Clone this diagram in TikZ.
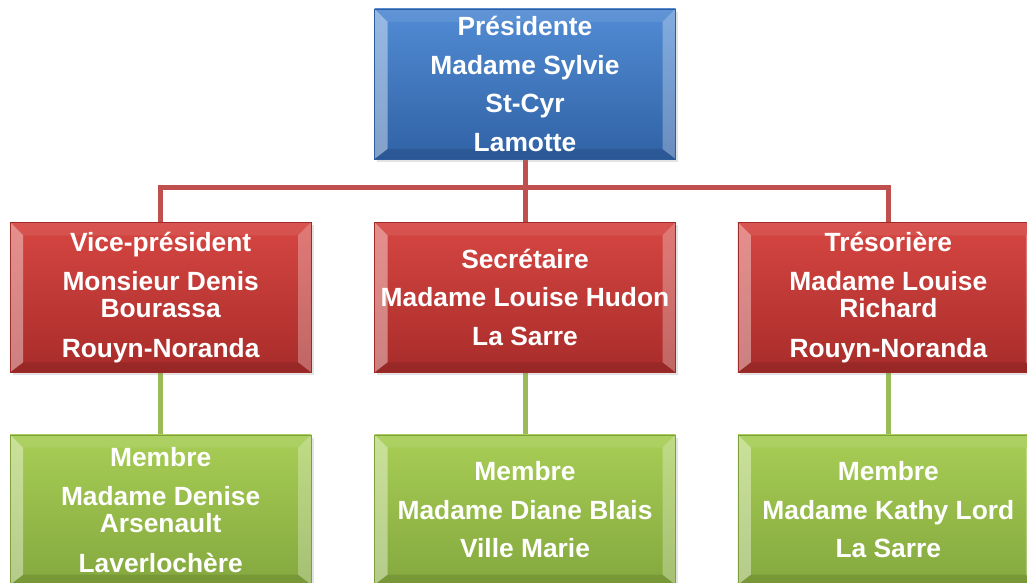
\documentclass[tikz,border=0pt]{standalone}
\usepackage{fontspec}
\setmainfont{Liberation Sans}
\usetikzlibrary{positioning}
\usetikzlibrary{shadows}
\usetikzlibrary{backgrounds}
\definecolor{chart-red}{HTML}{C0504D}
\definecolor{chart-green}{HTML}{9BBB59}
\definecolor{blue-top}{RGB}{82,140,212}
\definecolor{blue-bottom}{RGB}{48,98,165}
\definecolor{red-top}{RGB}{214,70,66}
\definecolor{red-bottom}{RGB}{168,44,42}
\definecolor{green-top}{RGB}{168,206,86}
\definecolor{green-bottom}{RGB}{132,168,62}
\tikzset{
  org-box/.style 2 args={
    minimum width=6.02cm, minimum height=3cm, inner sep=0pt,
    top color=#1, bottom color=#2, draw=#2!95!black, line width=0.2pt,
    text=white, align=center, font=\fontsize{15}{15.6}\selectfont\bfseries,
    drop shadow={opacity=0.22, shadow xshift=0.05cm, shadow yshift=-0.06cm},
    path picture={
      \coordinate (nw) at (path picture bounding box.north west);
      \coordinate (ne) at (path picture bounding box.north east);
      \coordinate (sw) at (path picture bounding box.south west);
      \coordinate (se) at (path picture bounding box.south east);
      % bevel
      \fill[white, opacity=0.4] (nw) -- (sw) -- ([shift={(0.26,0.2)}]sw) -- ([shift={(0.26,-0.26)}]nw) -- cycle;
      \fill[white, opacity=0.28] (ne) -- (se) -- ([shift={(-0.26,0.2)}]se) -- ([shift={(-0.26,-0.26)}]ne) -- cycle;
      \fill[white, opacity=0.08] (nw) -- (ne) -- ([shift={(-0.26,-0.26)}]ne) -- ([shift={(0.26,-0.26)}]nw) -- cycle;
      \fill[black, opacity=0.1] (sw) -- (se) -- ([shift={(-0.26,0.2)}]se) -- ([shift={(0.26,0.2)}]sw) -- cycle;
    }},
  blue-box/.style={org-box={blue-top}{blue-bottom}},
  red-box/.style={org-box={red-top}{red-bottom}},
  green-box/.style={org-box={green-top}{green-bottom}},
  link-red/.style={draw=chart-red, line width=0.1cm},
  link-green/.style={draw=chart-green, line width=0.1cm},
}

\begin{document}
\begin{tikzpicture}
\useasboundingbox (0,0) rectangle (20.54,11.66);
\clip (0,0) rectangle (20.54,11.66);
% president
\node[blue-box] (pres) at (10.5,9.98) {Présidente\\[6.3pt]Madame Sylvie\\[6.3pt]St-Cyr\\[6.3pt]Lamotte};
% officers
\node[red-box, below=1.26cm of pres] (sec) {Secrétaire\\[6.5pt]Madame Louise Hudon\\[6.5pt]La Sarre};
\node[red-box, left=1.26cm of sec] (vp) {Vice-président\\[6.8pt]Monsieur Denis\\Bourassa\\[6.8pt]Rouyn-Noranda};
\node[red-box, right=1.24cm of sec] (tres) {Trésorière\\[6.8pt]Madame Louise\\Richard\\[6.8pt]Rouyn-Noranda};
% members
\node[green-box, below=1.24cm of vp] (m1) {Membre\\[6.8pt]Madame Denise\\Arsenault\\[6.8pt]Laverlochère};
\node[green-box, below=1.24cm of sec] (m2) {Membre\\[6.5pt]Madame Diane Blais\\[6.5pt]Ville Marie};
\node[green-box, below=1.24cm of tres] (m3) {Membre\\[6.5pt]Madame Kathy Lord\\[6.5pt]La Sarre};
% connectors
\begin{scope}[on background layer]
\path (pres.south) ++(0,-0.56) coordinate (bus);
\draw[link-red] (pres.south) -- (bus);
\draw[link-red] (vp.north) |- (bus) -| (tres.north);
\draw[link-red] (bus) -- (sec.north);
\draw[link-green] (vp.south) -- (m1.north);
\draw[link-green] (sec.south) -- (m2.north);
\draw[link-green] (tres.south) -- (m3.north);
\end{scope}
\end{tikzpicture}
\end{document}
